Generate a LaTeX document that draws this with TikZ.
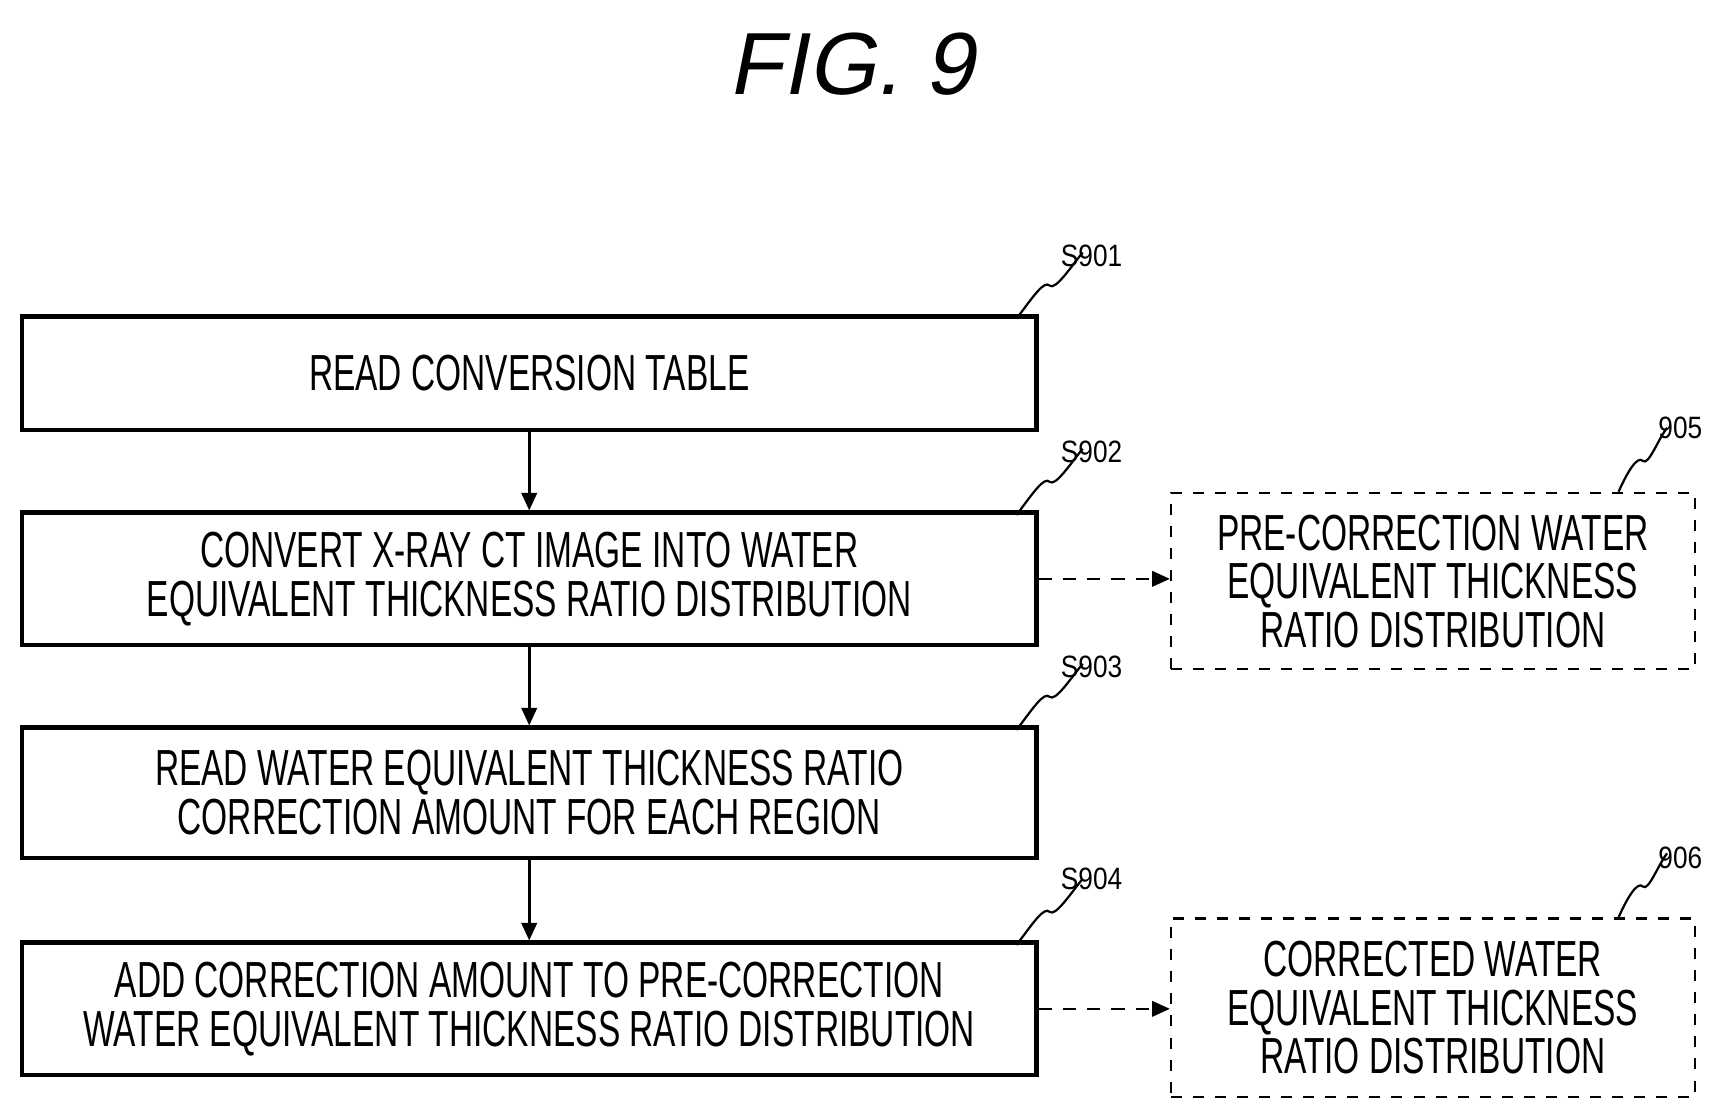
\documentclass[tikz,border=0pt]{standalone}
\usepackage{fontspec}
\setmainfont{Liberation Sans}[FakeStretch=0.66]
\newfontfamily\titlefont{Liberation Sans}[FakeSlant=0.2]
\usetikzlibrary{arrows.meta}
\begin{document}
\begin{tikzpicture}[x=1pt,y=-1pt,
  box/.style={draw,line width=4pt,minimum width=920pt,align=center,inner sep=0pt,font=\fontsize{46}{44}\selectfont},
  dbox/.style={draw,dashed,line width=2pt,dash pattern=on 10pt off 10pt,minimum width=475pt,minimum height=160pt,align=center,inner sep=0pt,font=\fontsize{46}{44}\selectfont},
  flow/.style={line width=2.5pt,-{Triangle[length=16pt,width=14pt]}},
  dflow/.style={line width=2pt,dash pattern=on 12pt off 10pt,-{Triangle[length=16pt,width=14pt]}},
  lbl/.style={font=\fontsize{28}{28}\selectfont\addfontfeatures{FakeStretch=0.85}},
  sq/.style={line width=2pt}]
\useasboundingbox (0,0) rectangle (1560,1011);
\node[font=\fontsize{80}{80}\selectfont\titlefont] (t) at (772,58) {FIG. 9};
\node[box,minimum height=103pt] (b1) at (480,338.5) {READ CONVERSION TABLE};
\node[box,minimum height=120pt] (b2) at (480,525) {CONVERT X-RAY CT IMAGE INTO WATER\\EQUIVALENT THICKNESS RATIO DISTRIBUTION};
\node[box,minimum height=118pt] (b3) at (480,719) {READ WATER EQUIVALENT THICKNESS RATIO\\CORRECTION AMOUNT FOR EACH REGION};
\node[box,minimum height=120pt] (b4) at (480,915) {ADD CORRECTION AMOUNT TO PRE-CORRECTION\\WATER EQUIVALENT THICKNESS RATIO DISTRIBUTION};
\node[dbox] (b5) at (1299.5,527) {PRE-CORRECTION WATER\\EQUIVALENT THICKNESS\\RATIO DISTRIBUTION};
\node[dbox,minimum height=162pt] (b6) at (1299.5,914) {CORRECTED WATER\\EQUIVALENT THICKNESS\\RATIO DISTRIBUTION};
\draw[flow] (b1) -- (b2);
\draw[flow] (b2) -- (b3);
\draw[flow] (b3) -- (b4);
\draw[dflow] (b2.east) -- (b2.east -| b5.west);
\draw[dflow] (b4.east) -- (b4.east -| b6.west);
\foreach \n/\b/\y in {S901/b1/232,S902/b2/410,S903/b3/605,S904/b4/797}{
  \node[lbl] (l\n) at (990,\y) {\n};
  \draw[sq] ([xshift=-20pt,yshift=-4pt]\b.north east) .. controls +(15,-20) and +(-5,-5) .. ++(30,-30) .. controls +(5,5) and +(-10,12) .. ++(30,-30);
}
\foreach \n/\b/\y in {905/b5/388,906/b6/778}{
  \node[lbl] (l\n) at (1524,\y) {\n};
  \draw[sq] ([xshift=-70pt]\b.north east) .. controls +(8,-18) and +(-5,-5) .. ++(22,-28) .. controls +(5,5) and +(-8,10) .. ++(22,-30);
}
\end{tikzpicture}
\end{document}
